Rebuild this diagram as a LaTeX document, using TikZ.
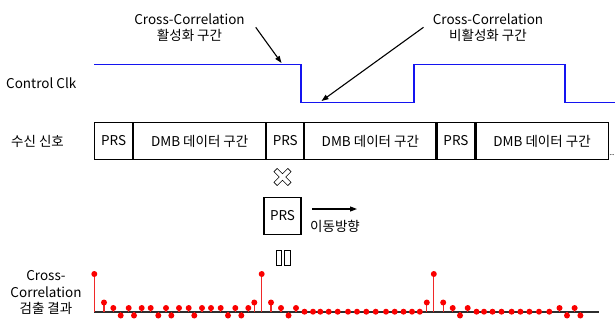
\documentclass[tikz,border=0pt]{standalone}
\usepackage{fontspec}
\setmainfont{Noto Sans CJK KR}
\usetikzlibrary{arrows.meta}
\definecolor{clkblue}{RGB}{20,20,240}
\definecolor{stemred}{RGB}{240,40,40}
\definecolor{dotred}{RGB}{250,0,0}
\definecolor{basegray}{RGB}{45,45,45}
\tikzset{
  lbl/.style={font=\fontsize{13.5}{16.5}\selectfont, inner sep=0pt, align=center},
  cell/.style={draw=black, line width=1.1pt, minimum height=37pt, inner sep=0pt, font=\fontsize{13.5}{16}\selectfont},
  pointer/.style={draw=black, line width=1.1pt, -{Triangle[length=7pt,width=5pt]}},
  clk/.style={draw=clkblue, line width=1.4pt},
  stem/.style={draw=stemred, line width=1.3pt},
  dot/.style={fill=dotred, draw=none},
}
\begin{document}
\begin{tikzpicture}[x=1pt,y=-1pt]
\useasboundingbox (0,0) rectangle (615,323);
% top labels
\node[lbl] (lab1) at (189.5,27.5) {Cross-Correlation\\활성화 구간};
\node[lbl] (lab2) at (488,27.5) {Cross-Correlation\\비활성화 구간};
\coordinate (a1s) at (255.7,27.3);
\coordinate (a1e) at (281.5,63);
\coordinate (a2s) at (423.5,27.3);
\coordinate (a2e) at (321.5,101);
\draw[pointer] (a1s) -- (a1e);
\draw[pointer] (a2s) -- (a2e);
% control clock
\node[lbl, anchor=west] (clkl) at (6,83.5) {Control Clk};
\draw[clk] (94,64.5) -- (301,64.5) -- (301,102.5) -- (414,102.5) -- (414,64.5) -- (565,64.5) -- (565,102.5) -- (615,102.5);
% received signal
\node[lbl, anchor=west] (rxl) at (11,141) {수신 신호};
\node[cell, minimum width=38pt, anchor=west] (p1) at (94,141) {PRS};
\node[cell, minimum width=132pt, anchor=west] (d1) at (p1.east) {DMB 데이터 구간};
\node[cell, minimum width=37pt, anchor=west] (p2) at (d1.east) {PRS};
\node[cell, minimum width=131pt, anchor=west] (d2) at (p2.east) {DMB 데이터 구간};
\node[cell, minimum width=38pt, anchor=west] (p3) at (d2.east) {PRS};
\node[cell, minimum width=132pt, anchor=west] (d3) at (p3.east) {DMB 데이터 구간};
\node[font=\fontsize{8}{9}\selectfont, inner sep=0pt, anchor=base east] (dots) at (614.5,156) {...};
% multiply symbol
\begin{scope}[shift={(282.5,177)}, rotate=45]
\draw[line width=0.6pt] (2.3,9.8) -- (2.3,2.3) -- (9.8,2.3) -- (9.8,-2.3) -- (2.3,-2.3) -- (2.3,-9.8) -- (-2.3,-9.8) -- (-2.3,-2.3) -- (-9.8,-2.3) -- (-9.8,2.3) -- (-2.3,2.3) -- (-2.3,9.8) -- cycle;
\end{scope}
% moving PRS
\node[cell, minimum width=37pt, minimum height=37pt] (pm) at (282.5,216) {PRS};
\coordinate (mvs) at (312,209);
\coordinate (mve) at (357,209);
\draw[pointer] (mvs) -- (mve);
\node[lbl] (mvl) at (335,226.5) {이동방향};
% equals symbol (vertical)
\draw[line width=0.8pt] (276,250) rectangle (281.5,265);
\draw[line width=0.8pt] (284.5,250) rectangle (290,265);
% result label
\node[lbl] (resl) at (46,292.5) {Cross-\\Correlation\\검출 결과};
% baseline
\draw[basegray, line width=1.8pt] (94,311.7) -- (598.5,311.7);
% stems
\foreach \x/\y in {94.3/274,104/302.5,113.3/308,120.7/315.5,128.7/308,134/315.5,141.7/308,150.7/308,158.3/315.5,166/308,171.3/315.5,179/308,188.7/308,194.3/315.5,202/308,211/308,220.7/308,228/315.5,235.3/308,241.3/315.5,248.3/308,254.3/302.5,261.7/274,271/302.5,281/308,288.5/315.5,296/308,304.5/311.7,313/311.7,320.3/311.7,328.7/311.7,337.7/311.7,348/311.7,357/311.7,366.3/311.7,375.7/311.7,386/311.7,394.7/311.7,403.5/311.7,412/311.7,419.8/311.7,426.8/302.5,433.8/274,443.2/302.5,452.7/308,460/315.5,467.7/308,476.5/311.7,484/311.7,492.5/311.7,501.5/311.7,511.6/311.7,520.4/311.7,529.4/311.7,539/311.7,549.3/311.7,559.5/308,567/315.5,574.6/308,580.4/315.5}{
  \draw[stem] (\x,311.7) -- (\x,\y);
  \fill[dot] (\x,\y) circle (3);
}
\end{tikzpicture}
\end{document}
